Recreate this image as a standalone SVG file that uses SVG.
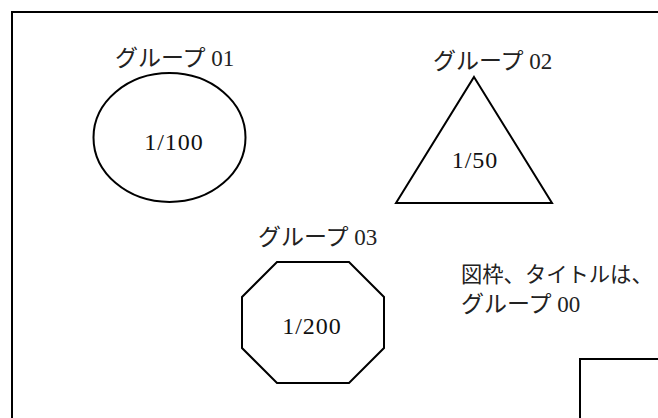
<svg xmlns="http://www.w3.org/2000/svg" width="658" height="418" viewBox="0 0 658 418">
<style>
.shape{fill:none;stroke:#000;stroke-width:2}
.t{font-family:"Liberation Serif","Noto Sans CJK JP",serif;font-size:23px;fill:#222}
.n{font-family:"Liberation Serif","Noto Sans CJK JP",serif;font-size:24px;letter-spacing:1px;fill:#111}
</style>
<rect width="658" height="418" fill="#fff"/>
<g id="frame">
<rect class="shape" x="12" y="12" width="700" height="500"/>
</g>
<g id="group01">
<text class="t" x="115" y="66">グループ 01</text>
<ellipse class="shape" cx="169.5" cy="137.5" rx="76" ry="64.5"/>
<text class="n" x="174" y="150" text-anchor="middle">1/100</text>
</g>
<g id="group02">
<text class="t" x="433" y="69">グループ 02</text>
<polygon class="shape" points="474,77 552,203 396,203"/>
<text class="n" x="475" y="168" text-anchor="middle">1/50</text>
</g>
<g id="group03">
<text class="t" x="258" y="245">グループ 03</text>
<polygon class="shape" points="277,262 349,262 384,297 384,348 349,383 277,383 242,348 242,297"/>
<text class="n" x="312" y="334" text-anchor="middle">1/200</text>
</g>
<g id="note">
<text class="t" x="461" y="282" style="font-size:21.3px">図枠、タイトルは、</text>
<text class="t" x="461" y="312">グループ 00</text>
</g>
<g id="titlebox">
<rect class="shape" x="580" y="359" width="200" height="100"/>
</g>
<g id="connectors"></g>
</svg>
